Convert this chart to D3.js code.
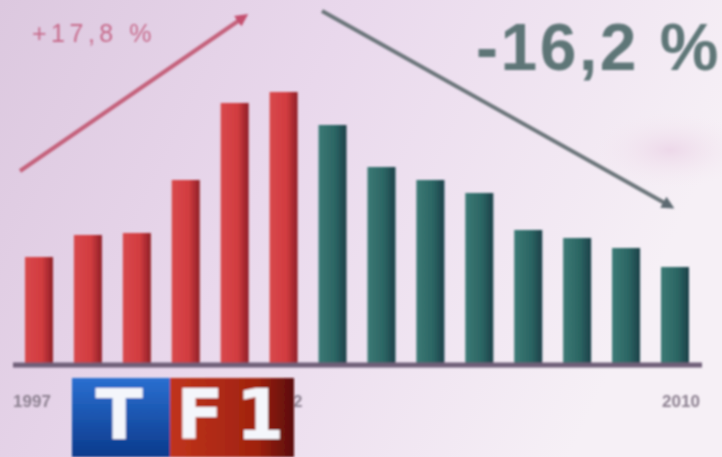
<!DOCTYPE html>
<html>
<head>
<meta charset="utf-8">
<script src="https://cdn.jsdelivr.net/npm/d3@7"></script>
<style>
  html, body { margin: 0; padding: 0; background: #e8d8ea; }
  svg { display: block; }
</style>
</head>
<body>
<div id="chart"></div>
<script>
// Audience index per year.
const years = ['1997', '1998', '1999', '2000', '2001', '2002', '2003',
               '2004', '2005', '2006', '2007', '2008', '2009', '2010'];
const values = [106, 128, 130, 183, 260, 271, 238, 196, 183, 170, 133, 125, 115, 96];
const phase = ['up', 'up', 'up', 'up', 'up', 'up', 'down',
               'down', 'down', 'down', 'down', 'down', 'down', 'down'];
const axisLabels = ['1997', '2002', '2010'];
const changeLabels = ['+17,8 %', '-16,2 %'];

const width = 722, height = 457;

const svg = d3.select('#chart')
    .append('svg')
    .attr('width', width)
    .attr('height', height);

const defs = svg.append('defs');

// Background: lavender on the left, fading to pale on the right.
const bg = defs.append('linearGradient').attr('id', 'bg')
    .attr('x1', 0).attr('y1', 0).attr('x2', 1).attr('y2', 0.3);
bg.append('stop').attr('offset', 0).attr('stop-color', '#dcc8df');
bg.append('stop').attr('offset', 0.45).attr('stop-color', '#e9d8ec');
bg.append('stop').attr('offset', 1).attr('stop-color', '#f6f0f6');

const cloud = defs.append('radialGradient').attr('id', 'cloud');
cloud.append('stop').attr('offset', 0).attr('stop-color', '#ecd6e8').attr('stop-opacity', 0.9);
cloud.append('stop').attr('offset', 1).attr('stop-color', '#f4eaf2').attr('stop-opacity', 0);

const redBar = defs.append('linearGradient').attr('id', 'redBar');
redBar.append('stop').attr('offset', 0).attr('stop-color', '#d8484b');
redBar.append('stop').attr('offset', 0.6).attr('stop-color', '#d23c40');
redBar.append('stop').attr('offset', 1).attr('stop-color', '#8e1f26');

const greenBar = defs.append('linearGradient').attr('id', 'greenBar');
greenBar.append('stop').attr('offset', 0).attr('stop-color', '#3c7a75');
greenBar.append('stop').attr('offset', 0.6).attr('stop-color', '#2b6563');
greenBar.append('stop').attr('offset', 1).attr('stop-color', '#1c3f48');

const blueLogo = defs.append('linearGradient').attr('id', 'blueLogo')
    .attr('x1', 0).attr('y1', 0).attr('x2', 0).attr('y2', 1);
blueLogo.append('stop').attr('offset', 0).attr('stop-color', '#2a6fd0');
blueLogo.append('stop').attr('offset', 1).attr('stop-color', '#0b3a8c');

const redLogo = defs.append('linearGradient').attr('id', 'redLogo')
    .attr('x1', 0).attr('y1', 0).attr('x2', 1).attr('y2', 0);
redLogo.append('stop').attr('offset', 0).attr('stop-color', '#c0341c');
redLogo.append('stop').attr('offset', 0.7).attr('stop-color', '#a0220f');
redLogo.append('stop').attr('offset', 1).attr('stop-color', '#5a0c0c');

defs.append('filter').attr('id', 'soft')
    .append('feGaussianBlur').attr('stdDeviation', 0.9);

['redHead', 'greyHead'].forEach((id, i) => {
    defs.append('marker')
        .attr('id', id)
        .attr('viewBox', '0 0 10 10')
        .attr('refX', 6).attr('refY', 5)
        .attr('markerWidth', 3.2).attr('markerHeight', 3.2)
        .attr('orient', 'auto')
        .append('path')
        .attr('d', 'M0,0 L10,5 L0,10 z')
        .attr('fill', i === 0 ? '#c4506e' : '#5d6b72');
});

svg.append('rect').attr('width', width).attr('height', height).attr('fill', 'url(#bg)');
svg.append('ellipse')
    .attr('cx', 670).attr('cy', 150).attr('rx', 80).attr('ry', 38)
    .attr('fill', 'url(#cloud)');

// Scales
const x = d3.scalePoint().domain(years).range([39, 675]);
const y = d3.scaleLinear().domain([0, 300]).range([363, 63]);
const barWidth = 28;

const plot = svg.append('g').attr('filter', 'url(#soft)');

plot.selectAll('rect.bar')
    .data(years)
    .join('rect')
    .classed('bar', true)
    .attr('x', (d) => x(d) - barWidth / 2)
    .attr('y', (d, i) => y(values[i]))
    .attr('width', barWidth)
    .attr('height', (d, i) => y(0) - y(values[i]))
    .attr('fill', (d, i) => (phase[i] === 'up' ? 'url(#redBar)' : 'url(#greenBar)'));

// Baseline
plot.append('line')
    .attr('x1', 13).attr('x2', 702)
    .attr('y1', y(0) + 2).attr('y2', y(0) + 2)
    .attr('stroke', '#6f5f78')
    .attr('stroke-width', 5);

// Trend arrows
plot.append('line')
    .attr('x1', 20).attr('y1', 171)
    .attr('x2', 244).attr('y2', 17)
    .attr('stroke', '#c4607a')
    .attr('stroke-width', 4)
    .attr('marker-end', 'url(#redHead)');

plot.append('line')
    .attr('x1', 322).attr('y1', 11)
    .attr('x2', 670).attr('y2', 206)
    .attr('stroke', '#6b7479')
    .attr('stroke-width', 4)
    .attr('marker-end', 'url(#greyHead)');

// Percent changes
svg.append('text')
    .attr('x', 32).attr('y', 42)
    .attr('font-family', 'Liberation Sans, Arial, sans-serif')
    .attr('font-size', 25)
    .attr('letter-spacing', 4.5)
    .attr('fill', '#c2587a')
    .attr('opacity', 0.85)
    .attr('filter', 'url(#soft)')
    .text(changeLabels[0]);

svg.append('text')
    .attr('x', 721).attr('y', 70)
    .attr('text-anchor', 'end')
    .attr('font-family', 'Liberation Sans, Arial, sans-serif')
    .attr('font-weight', 'bold')
    .attr('font-size', 66)
    .attr('letter-spacing', 2.5)
    .attr('fill', '#4f6a6b')
    .attr('opacity', 0.9)
    .attr('filter', 'url(#soft)')
    .text(changeLabels[1]);

// Year labels
const labelShift = { '1997': -7, '2002': 0, '2010': 6 };
svg.selectAll('text.year')
    .data(axisLabels)
    .join('text')
    .classed('year', true)
    .attr('x', (d) => x(d) + labelShift[d])
    .attr('y', 407)
    .attr('text-anchor', 'middle')
    .attr('font-family', 'Liberation Sans, Arial, sans-serif')
    .attr('font-weight', 'bold')
    .attr('font-size', 17)
    .attr('fill', '#8c8090')
    .attr('filter', 'url(#soft)')
    .text((d) => d);

// TF1 logo
const logo = svg.append('g').attr('filter', 'url(#soft)');
logo.append('rect')
    .attr('x', 72).attr('y', 378).attr('width', 98).attr('height', 79)
    .attr('fill', 'url(#blueLogo)');
logo.append('rect')
    .attr('x', 170).attr('y', 378).attr('width', 124).attr('height', 79)
    .attr('fill', 'url(#redLogo)');

logo.selectAll('text')
    .data([['T', 119], ['F', 200], ['1', 260]])
    .join('text')
    .attr('x', (d) => d[1])
    .attr('y', 439)
    .attr('text-anchor', 'middle')
    .attr('font-family', 'DejaVu Sans, sans-serif')
    .attr('font-weight', 'bold')
    .attr('font-size', 70)
    .attr('fill', '#f4f6fb')
    .text((d) => d[0]);
</script>
</body>
</html>
